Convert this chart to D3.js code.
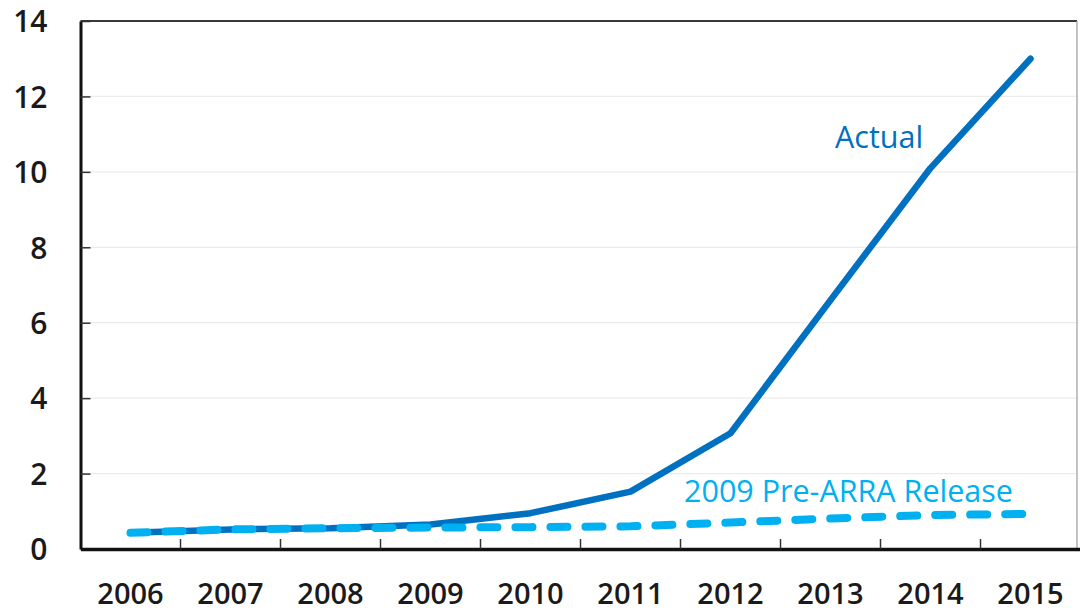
<!DOCTYPE html>
<html>
<head>
<meta charset="utf-8">
<script src="https://cdn.jsdelivr.net/npm/d3@7"></script>
<style>
  html, body { margin: 0; padding: 0; background: #fff; }
  svg { display: block; }
  text { font-family: "Open Sans", "Noto Sans", sans-serif; font-weight: 600; }
  text.series-label { font-weight: 400; }
</style>
</head>
<body>
<svg id="chart" width="1080" height="611"></svg>
<script>
// Years on the horizontal axis
const years = ["2006", "2007", "2008", "2009", "2010", "2011", "2012", "2013", "2014", "2015"];
// Actual series
const actual = [0.43, 0.52, 0.55, 0.65, 0.95, 1.52, 3.07, 6.6, 10.1, 13.0];
// 2009 Pre-ARRA Release projection
const preArra = [0.43, 0.52, 0.55, 0.57, 0.58, 0.6, 0.7, 0.81, 0.9, 0.93];
// Value axis ticks
const yTicks = [0, 2, 4, 6, 8, 10, 12, 14];

const svg = d3.select("#chart");
const plotLeft = 80.5, plotRight = 1080.5, plotTop = 21, plotBottom = 549, frameRight = 1077;

const x = d3.scaleBand().domain(years).range([plotLeft, plotRight]).padding(0);
const y = d3.scaleLinear().domain([0, 14]).range([plotBottom, plotTop]);
const cx = d => x(d) + x.bandwidth() / 2;

// Horizontal gridlines
svg.append("g")
  .selectAll("line")
  .data(yTicks.filter(t => t > 0 && t < 14))
  .join("line")
  .attr("x1", plotLeft).attr("x2", frameRight)
  .attr("y1", d => y(d)).attr("y2", d => y(d))
  .attr("stroke", "#ececec").attr("stroke-width", 1.2);

// Plot frame: top and right edges
svg.append("line")
  .attr("x1", plotLeft).attr("x2", frameRight).attr("y1", plotTop).attr("y2", plotTop)
  .attr("stroke", "#3a3a3a").attr("stroke-width", 2);
svg.append("line")
  .attr("x1", frameRight).attr("x2", frameRight).attr("y1", plotTop).attr("y2", plotBottom)
  .attr("stroke", "#9a9a9a").attr("stroke-width", 1.2);

// Y axis with inward ticks
const yAxis = svg.append("g")
  .attr("transform", `translate(${plotLeft},0)`)
  .call(d3.axisLeft(y).tickValues(yTicks).tickSize(-10).tickPadding(44).tickSizeOuter(0));
yAxis.select(".domain").attr("stroke", "#111").attr("stroke-width", 3);
yAxis.selectAll(".tick line").attr("stroke", "#333").attr("stroke-width", 1.5);
yAxis.selectAll(".tick text")
  .attr("x", -33)
  .attr("dy", "0.36em")
  .attr("fill", "#1a1a1a")
  .style("font-size", "30px");

// X axis: ticks sit between the year bands
const xAxis = svg.append("g")
  .attr("transform", `translate(0,${plotBottom})`)
  .call(d3.axisBottom(x).tickSize(0).tickPadding(0).tickSizeOuter(0));
xAxis.select(".domain").attr("stroke", "#111").attr("stroke-width", 3.5);
xAxis.selectAll(".tick text")
  .attr("y", 55)
  .attr("dy", 0)
  .attr("fill", "#1a1a1a")
  .style("font-size", "29px");

svg.append("g")
  .selectAll("line")
  .data(years.slice(1))
  .join("line")
  .attr("x1", d => x(d)).attr("x2", d => x(d))
  .attr("y1", plotBottom).attr("y2", plotBottom - 10)
  .attr("stroke", "#333").attr("stroke-width", 1.5);

const line = d3.line()
  .x((d, i) => cx(years[i]))
  .y(d => y(d));

// Actual (solid)
svg.append("path")
  .datum(actual)
  .attr("d", line)
  .attr("fill", "none")
  .attr("stroke", "#0070C0")
  .attr("stroke-width", 6.5)
  .attr("stroke-linejoin", "round")
  .attr("stroke-linecap", "round");

// Pre-ARRA projection (dashed)
svg.append("path")
  .datum(preArra)
  .attr("d", line)
  .attr("fill", "none")
  .attr("stroke", "#00B0F0")
  .attr("stroke-width", 8)
  .attr("stroke-dasharray", "17 18")
  .attr("stroke-linejoin", "round")
  .attr("stroke-linecap", "round");

// Series labels
svg.append("text")
  .attr("class", "series-label")
  .attr("x", 835).attr("y", 148)
  .attr("fill", "#0070C0")
  .style("font-size", "30.5px")
  .text("Actual");

svg.append("text")
  .attr("class", "series-label")
  .attr("x", 684).attr("y", 502)
  .attr("fill", "#00B0F0")
  .style("font-size", "30.5px")
  .text("2009 Pre-ARRA Release");
</script>
</body>
</html>
